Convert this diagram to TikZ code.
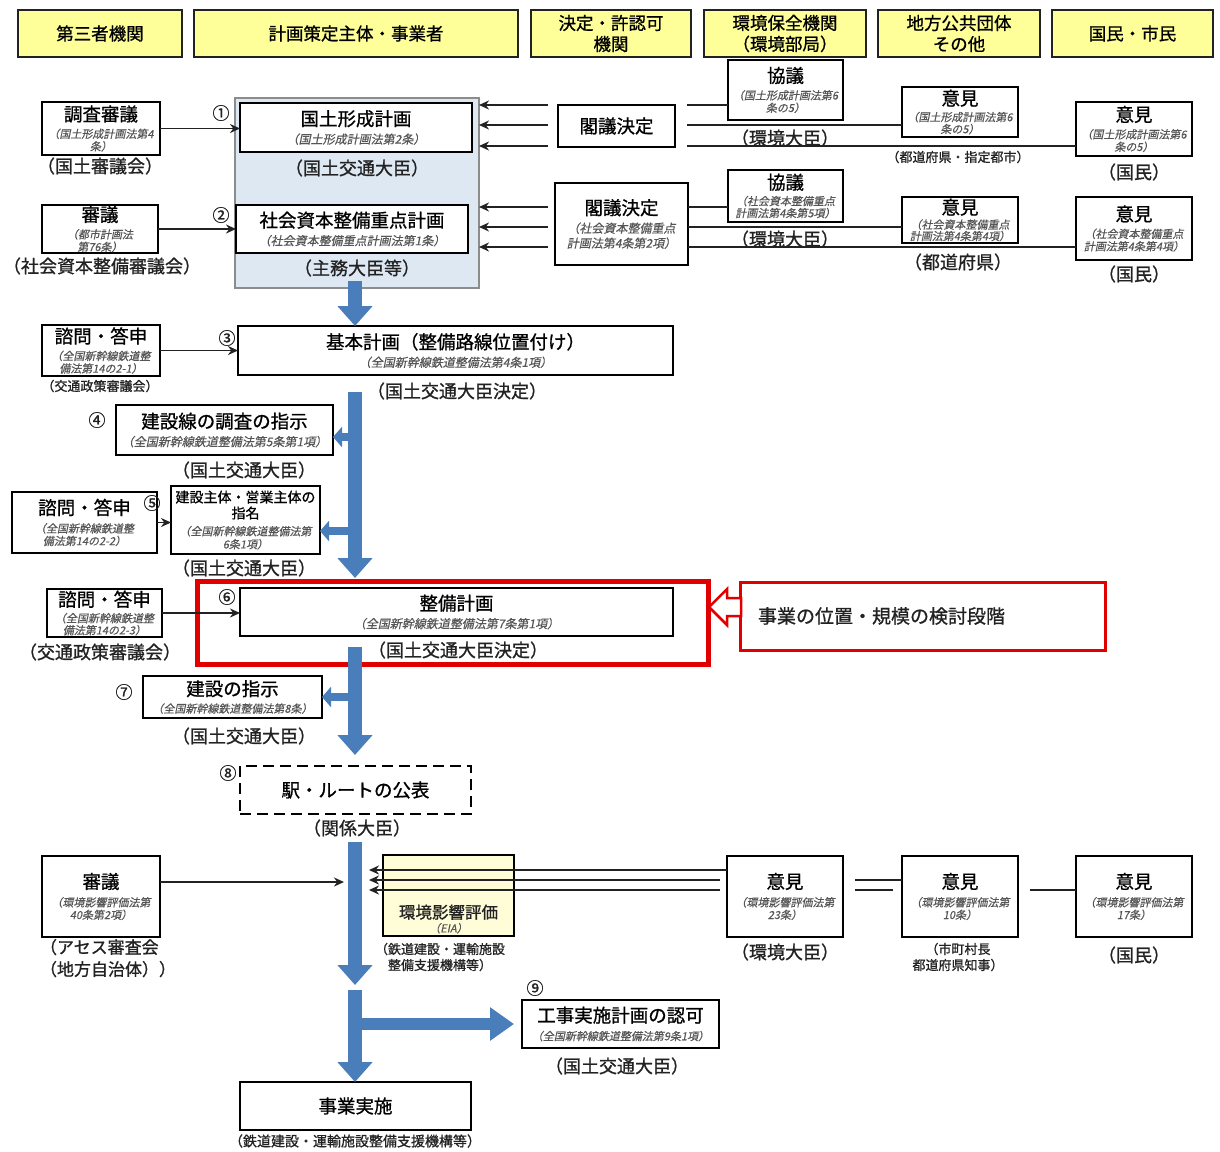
\documentclass[tikz,border=0pt]{standalone}
\usepackage{fontspec}
\setmainfont{Noto Sans CJK JP}[FakeBold=0.9]
\newfontfamily\lawfont{Noto Sans CJK JP}[FakeSlant=0.2, FakeBold=0.4]
\usetikzlibrary{arrows.meta}

\definecolor{headfill}{HTML}{FFFF99}
\definecolor{zonefill}{HTML}{DDE8F3}
\definecolor{zoneline}{HTML}{8C8C8C}
\definecolor{flow}{HTML}{4A7EBB}
\definecolor{alert}{HTML}{E00000}
\definecolor{eiafill}{HTML}{FFFCD8}
\definecolor{lawgray}{HTML}{555555}
\definecolor{ink}{HTML}{222222}

% statute references, set small, slanted and grey
\newcommand{\lawtxt}[1]{{\lawfont\fontsize{11}{12}\selectfont\color{lawgray}#1}}
\newcommand{\lawone}[1]{{\lawfont\fontsize{12}{13}\selectfont\color{lawgray}#1}}
\newcommand{\lawtxtL}[1]{{\lawfont\fontsize{12}{13}\selectfont\color{lawgray}#1}}
\newcommand{\midtxt}[1]{{\fontsize{14}{16}\selectfont #1}}

\tikzset{
  every node/.style={inner sep=0pt, outer sep=0pt},
  sz/.style 2 args={minimum width=#1pt, minimum height=#2pt},
  headbox/.style={draw=ink, line width=2.4pt, fill=headfill, align=center, font=\fontsize{17.5}{22}\selectfont},
  box/.style={draw=black, line width=2.2pt, fill=white, align=center, font=\fontsize{18.5}{21}\selectfont},
  zonebox/.style={draw=zoneline, line width=2pt, fill=zonefill},
  dashbox/.style={box, dash pattern=on 11pt off 6pt},
  capt/.style={font=\fontsize{18}{22}\selectfont, text=ink, align=center},
  captsm/.style={font=\fontsize{13}{18}\selectfont, text=ink, align=center},
  num/.style={font=\fontsize{17}{17}\selectfont, text=ink},
  conn/.style={draw=ink, line width=1.8pt},
  arr/.style={conn, -{Stealth[length=10pt,width=9pt]}},
  bigflow/.style={draw=flow, line width=14pt, -{Triangle[length=20pt,width=34pt]}},
  sideflow/.style={draw=flow, line width=8pt, -{Triangle[length=9pt,width=20pt]}},
  hflow/.style={draw=flow, line width=12pt, -{Triangle[length=24pt,width=32pt]}},
}

\begin{document}
\begin{tikzpicture}[x=1pt,y=-1pt]
\useasboundingbox (0,0) rectangle (1220,1151);
\fill[white] (0,0) rectangle (1220,1151);

% ---------- column headers ----------
\node[headbox, sz={164}{47}] (hThird) at (100,33.5) {第三者機関};
\node[headbox, sz={324}{47}] (hPlanner) at (356,33.5) {計画策定主体・事業者};
\node[headbox, sz={160}{47}] (hAuth) at (611,33.5) {決定・許認可\\[-1pt]機関};
\node[headbox, sz={162}{47}] (hEnv) at (785,33.5) {環境保全機関\\[-1pt]（環境部局）};
\node[headbox, sz={162}{47}] (hLocal) at (959,33.5) {地方公共団体\\[-1pt]その他};
\node[headbox, sz={161}{47}] (hCitizen) at (1132.5,33.5) {国民・市民};

% ---------- national plans ----------
\node[zonebox, sz={244}{190}] (zone) at (357,193) {};
\node[box, sz={232}{49}] (plan1) at (356,127.5) {国土形成計画\\[-3pt]\lawone{（国土形成計画法第2条）}};
\node[box, sz={232}{48}] (plan2) at (352,229) {社会資本整備重点計画\\[-3pt]\lawone{（社会資本整備重点計画法第1条）}};
\node[capt] (plan1cap) at (357,168) {（国土交通大臣）};
\node[capt] (plan2cap) at (357,268) {（主務大臣等）};
\node[num] (n1) at (221,113) {①};
\node[num] (n2) at (221,215) {②};

\node[box, sz={118}{53}] (chosa) at (101,128.5) {調査審議\\[-4pt]\lawtxt{（国土形成計画法第4}\\[-8.5pt]\lawtxt{条）}};
\node[capt] (chosacap) at (100,166) {（国土審議会）};
\node[box, sz={116}{48}] (shingi) at (100,229) {審議\\[-4pt]\lawtxt{（都市計画法}\\[-8.5pt]\lawtxt{第76条）}};
\node[capt] (shingicap) at (102,266) {（社会資本整備審議会）};

\node[box, sz={117}{42}] (kakA) at (616.5,126) {閣議決定};
\node[box, sz={133}{82}] (kakB) at (621.5,224) {閣議決定\\[-3pt]\lawtxtL{（社会資本整備重点}\\[-6pt]\lawtxtL{計画法第4条第2項）}};

\node[box, sz={115}{60}] (kyA) at (785.5,90) {協議\\[-4pt]\lawtxt{（国土形成計画法第6}\\[-8.5pt]\lawtxt{条の5）}};
\node[capt] (kyAcap) at (785,138) {（環境大臣）};
\node[box, sz={116}{50}] (ikA) at (960,112) {意見\\[-5pt]\lawtxt{（国土形成計画法第6}\\[-9pt]\lawtxt{条の5）}};
\node[captsm] (ikAcap) at (958,157) {（都道府県・指定都市）};
\node[box, sz={116}{54}] (kmA) at (1134,129) {意見\\[-4pt]\lawtxt{（国土形成計画法第6}\\[-8.5pt]\lawtxt{条の5）}};
\node[capt] (kmAcap) at (1134,172) {（国民）};

\node[box, sz={115}{52}] (kyB) at (785.5,196) {協議\\[-5pt]\lawtxt{（社会資本整備重点}\\[-9pt]\lawtxt{計画法第4条第5項）}};
\node[capt] (kyBcap) at (785,239) {（環境大臣）};
\node[box, sz={116}{46}] (ikB) at (960,220) {意見\\[-6.5pt]\lawtxt{（社会資本整備重点}\\[-9.5pt]\lawtxt{計画法第4条第4項）}};
\node[capt] (ikBcap) at (958,262) {（都道府県）};
\node[box, sz={116}{63}] (kmB) at (1134,228.5) {意見\\[-4pt]\lawtxt{（社会資本整備重点}\\[-8.5pt]\lawtxt{計画法第4条第4項）}};
\node[capt] (kmBcap) at (1134,274) {（国民）};

% strand levels between the ministries and the plans
\coordinate (r1) at (0,105);
\coordinate (r2) at (0,125);
\coordinate (r3) at (0,146);
\coordinate (q1) at (0,207);
\coordinate (q2) at (0,227);
\coordinate (q3) at (0,247);
\coordinate (kakAl) at ([xshift=-10]kakA.west);
\coordinate (kakAr) at ([xshift=12]kakA.east);
\coordinate (kakBl) at ([xshift=-7]kakB.west);

\draw[conn] (kyA.west |- r1) -- (kakAr |- r1);
\draw[conn] (ikA.west |- r2) -- (kakAr |- r2);
\draw[conn] (kmA.west |- r3) -- (kakAr |- r3);
\draw[arr] (kakAl |- r1) -- (zone.east |- r1);
\draw[arr] (kakAl |- r2) -- (zone.east |- r2);
\draw[arr] (kakAl |- r3) -- (zone.east |- r3);

\draw[conn] (kyB.west |- q1) -- (kakB.east |- q1);
\draw[conn] (ikB.west |- q2) -- (kakB.east |- q2);
\draw[conn] (kmB.west |- q3) -- (kakB.east |- q3);
\draw[arr] (kakBl |- q1) -- (zone.east |- q1);
\draw[arr] (kakBl |- q2) -- (zone.east |- q2);
\draw[arr] (kakBl |- q3) -- (zone.east |- q3);

\draw[arr] (chosa.east) -- (plan1.west |- chosa.east);
\draw[arr] (shingi.east) -- (plan2.west |- shingi.east);

% ---------- Shinkansen procedure ----------
\node[box, sz={118}{51}] (toshin1) at (101,350.5) {諮問・答申\\[-4pt]\lawtxt{（全国新幹線鉄道整}\\[-8.5pt]\lawtxt{備法第14の2-1）}};
\node[captsm] (toshin1cap) at (100,386) {（交通政策審議会）};
\node[num] (n3) at (227,338) {③};
\node[box, sz={435}{49}] (kihon) at (455.5,350.5) {基本計画（整備路線位置付け）\\[-3pt]\lawone{（全国新幹線鉄道整備法第4条1項）}};
\node[capt] (kihoncap) at (457,391) {（国土交通大臣決定）};
\draw[arr] (toshin1.east) -- (kihon.west |- toshin1.east);

\node[num] (n4) at (97,420) {④};
\node[box, sz={217}{50}] (kensen) at (224.5,430) {建設線の調査の指示\\[-3pt]\lawone{（全国新幹線鉄道整備法第5条第1項）}};
\node[capt] (kensencap) at (244,470) {（国土交通大臣）};

\node[box, sz={145}{61}] (toshin2) at (84.5,522.5) {諮問・答申\\[-3pt]\lawtxt{（全国新幹線鉄道整}\\[-8.5pt]\lawtxt{備法第14の2-2）}};
\node[num] (n5) at (152,503) {⑤};
\node[box, sz={149}{68}] (shimei) at (245.5,520) {\midtxt{建設主体・営業主体の}\\[-5pt]\midtxt{指名}\\[-4pt]\lawtxt{（全国新幹線鉄道整備法第}\\[-8pt]\lawtxt{6条1項）}};
\node[capt] (shimeicap) at (244,568) {（国土交通大臣）};
\draw[arr] (toshin2.east) -- (shimei.west |- toshin2.east);

\node[draw=alert, line width=5pt, sz={511}{83}] (redzone) at (452.5,622.5) {};
\node[num] (n6) at (227,597) {⑥};
\node[box, sz={433}{48}] (seibi) at (456.5,612) {整備計画\\[-3pt]\lawone{（全国新幹線鉄道整備法第7条第1項）}};
\node[capt] (seibicap) at (458,650) {（国土交通大臣決定）};
\node[box, sz={115}{48}] (toshin3) at (104.5,613) {諮問・答申\\[-5pt]\lawtxt{（全国新幹線鉄道整}\\[-9pt]\lawtxt{備法第14の2-3）}};
\node[capt] (toshin3cap) at (100,652) {（交通政策審議会）};
\draw[arr] (toshin3.east) -- (seibi.west |- toshin3.east);

\node[draw=alert, line width=3pt, sz={365}{68}] (stage) at (922.5,616) {};
\node[font=\fontsize{19}{21}\selectfont, text=ink, anchor=west] (stagetxt) at ([xshift=18]stage.west) {事業の位置・規模の検討段階};
% hollow pointer from the stage box to the plan frame
\coordinate (rtip) at (709,607);
\draw[draw=alert, line width=2.5pt, fill=white, line join=miter]
  (rtip) -- ++(18,-18) -- ++(0,9) -- ++(14,0) -- ++(0,18) -- ++(-14,0) -- ++(0,9) -- cycle;

\node[num] (n7) at (124,692) {⑦};
\node[box, sz={179}{42}] (kenshi) at (232.5,697) {建設の指示\\[-4pt]\lawtxt{（全国新幹線鉄道整備法第8条）}};
\node[capt] (kenshicap) at (244,736) {（国土交通大臣）};

\node[num] (n8) at (228,773) {⑧};
\node[dashbox, sz={231}{48}] (eki) at (355.5,790) {駅・ルートの公表};
\node[capt] (ekicap) at (357,828) {（関係大臣）};

% ---------- environmental assessment ----------
\node[box, sz={118}{81}] (assess) at (101,896.5) {審議\\[-3pt]\lawtxt{（環境影響評価法第}\\[-8.5pt]\lawtxt{40条第2項）}};
\node[font=\fontsize{17}{22}\selectfont, text=ink, align=left, anchor=north west] (assesscap) at (40,939) {（アセス審査会\\（地方自治体））};

\node[box, fill=eiafill, sz={131}{81}] (eia) at (448.5,895.5) {};
\node[font=\fontsize{16.5}{20}\selectfont, text=ink, align=center] (eiatxt) at (448.5,919) {環境影響評価\\[-6pt]\lawtxt{（EIA）}};
\node[captsm] (eiacap) at (440,957) {（鉄道建設・運輸施設\\[-2pt]整備支援機構等）};

\node[box, sz={116}{81}] (ikE1) at (785,896.5) {意見\\[-3pt]\lawtxt{（環境影響評価法第}\\[-8.5pt]\lawtxt{23条）}};
\node[capt] (ikE1cap) at (785,952) {（環境大臣）};
\node[box, sz={116}{81}] (ikE2) at (960,896.5) {意見\\[-3pt]\lawtxt{（環境影響評価法第}\\[-8.5pt]\lawtxt{10条）}};
\node[captsm] (ikE2cap) at (958,957) {（市町村長\\[-2pt]都道府県知事）};
\node[box, sz={116}{81}] (ikE3) at (1134,896.5) {意見\\[-3pt]\lawtxt{（環境影響評価法第}\\[-8.5pt]\lawtxt{17条）}};
\node[capt] (ikE3cap) at (1134,955) {（国民）};

\coordinate (s1) at (0,870);
\coordinate (s2) at (0,880);
\coordinate (s3) at (0,890);
\coordinate (eTip) at (369,880);
\coordinate (aTip) at (344,882);
\coordinate (gapE1l) at ([xshift=-7]ikE1.west);
\coordinate (gapE1r) at ([xshift=12]ikE1.east);
\coordinate (gapE2l) at ([xshift=-9]ikE2.west);
\coordinate (gapE2r) at ([xshift=12]ikE2.east);

\draw[arr] (ikE1.west |- s1) -- (eTip |- s1);
\draw[conn] (ikE2.west |- s2) -- (gapE1r |- s2);
\draw[arr] (gapE1l |- s2) -- (eTip |- s2);
\draw[conn] (ikE3.west |- s3) -- (gapE2r |- s3);
\draw[conn] (gapE2l |- s3) -- (gapE1r |- s3);
\draw[arr] (gapE1l |- s3) -- (eTip |- s3);
\draw[arr] (assess.east |- aTip) -- (aTip);

% ---------- construction ----------
\node[num] (n9) at (535,988) {⑨};
\node[box, sz={197}{48}] (koji) at (620.5,1024) {工事実施計画の認可\\[-3pt]\lawtxt{（全国新幹線鉄道整備法第9条1項）}};
\node[capt] (kojicap) at (617,1066) {（国土交通大臣）};
\node[box, sz={231}{48}] (jigyo) at (355.5,1106) {事業実施};
\node[font=\fontsize{14}{16}\selectfont, text=ink] (jigyocap) at (355,1141) {（鉄道建設・運輸施設整備支援機構等）};

% ---------- main flow (blue) ----------
\coordinate (spA) at (355,281);
\draw[bigflow] (spA) -- (spA |- kihon.north);

\coordinate (spB) at (355,392);
\coordinate (spBend) at (355,578);
\draw[bigflow] (spB) -- (spBend);
\coordinate (sideA) at (350,437);
\coordinate (sideB) at (350,531);
\draw[sideflow] (sideA) -- (kensen.east |- sideA);
\draw[sideflow] (sideB) -- (shimei.east |- sideB);

\coordinate (spC) at (355,647);
\coordinate (spCend) at (355,755);
\draw[bigflow] (spC) -- (spCend);
\coordinate (sideC) at (350,697);
\draw[sideflow] (sideC) -- (kenshi.east |- sideC);

\coordinate (spD) at (355,842);
\coordinate (spDend) at (355,985);
\draw[bigflow] (spD) -- (spDend);

\coordinate (spE) at (355,990);
\draw[bigflow] (spE) -- (spE |- jigyo.north);
\coordinate (hz) at (360,1024);
\coordinate (kojiTip) at ([xshift=-8]koji.west);
\draw[hflow] (hz) -- (kojiTip);
\end{tikzpicture}
\end{document}
